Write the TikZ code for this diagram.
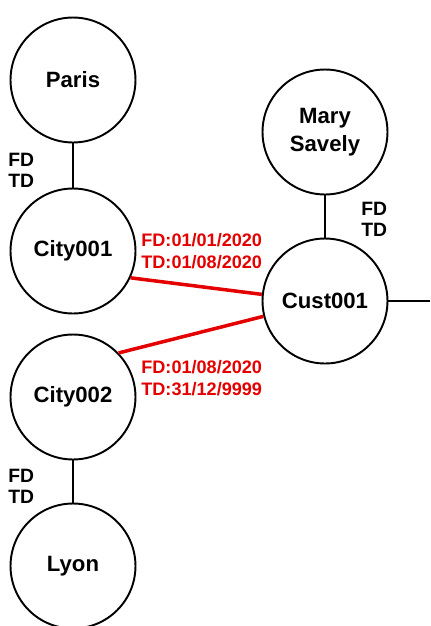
\documentclass[tikz,border=0pt]{standalone}
\usepackage{fontspec}
\setmainfont{Liberation Sans}
\usepackage{tikz}
\usetikzlibrary{calc}

\tikzset{
  entity/.style={circle, draw, line width=1.1pt, minimum size=2.5cm, inner sep=0pt,
    font=\fontsize{12.6pt}{15.8pt}\selectfont\bfseries, align=center},
  link/.style={line width=1.1pt},
  hist/.style={line width=2pt, red!90!black},
  fdtd/.style={anchor=west, align=left, inner sep=0pt, font=\fontsize{11pt}{12pt}\selectfont\bfseries},
  datelbl/.style={anchor=west, align=left, inner sep=0pt, text=red!90!black,
    font=\fontsize{10.3pt}{12.5pt}\selectfont\bfseries}
}

\begin{document}
\begin{tikzpicture}[x=0.02cm,y=-0.02cm]
  \useasboundingbox (0,0) rectangle (430,626);
  \node[entity](Paris) at (73,80){Paris};
  \node[entity](City001) at (73,251){City001};
  \node[entity](City002) at (73,397){City002};
  \node[entity](Lyon) at (73,566){Lyon};
  \node[entity](Mary) at (325,132){Mary\\Savely};
  \node[entity](Cust001) at (325,301){Cust001};
  \coordinate(R) at (430,301);
  \draw[link](Paris)--(City001);
  \draw[link](City002)--(Lyon);
  \draw[link](Mary)--(Cust001);
  \draw[link](Cust001)--(R);
  \draw[hist](City001.-25)--(Cust001.174);
  \draw[hist](City002.44)--(Cust001.194);
  \node[fdtd](fd1) at (8,170){FD\\TD};
  \node[fdtd](fd2) at (361,219){FD\\TD};
  \node[fdtd](fd3) at (8,486){FD\\TD};
  \node[datelbl](d1) at (141,251){FD:01/01/2020\\TD:01/08/2020};
  \node[datelbl](d2) at (141,378){FD:01/08/2020\\TD:31/12/9999};
\end{tikzpicture}
\end{document}
